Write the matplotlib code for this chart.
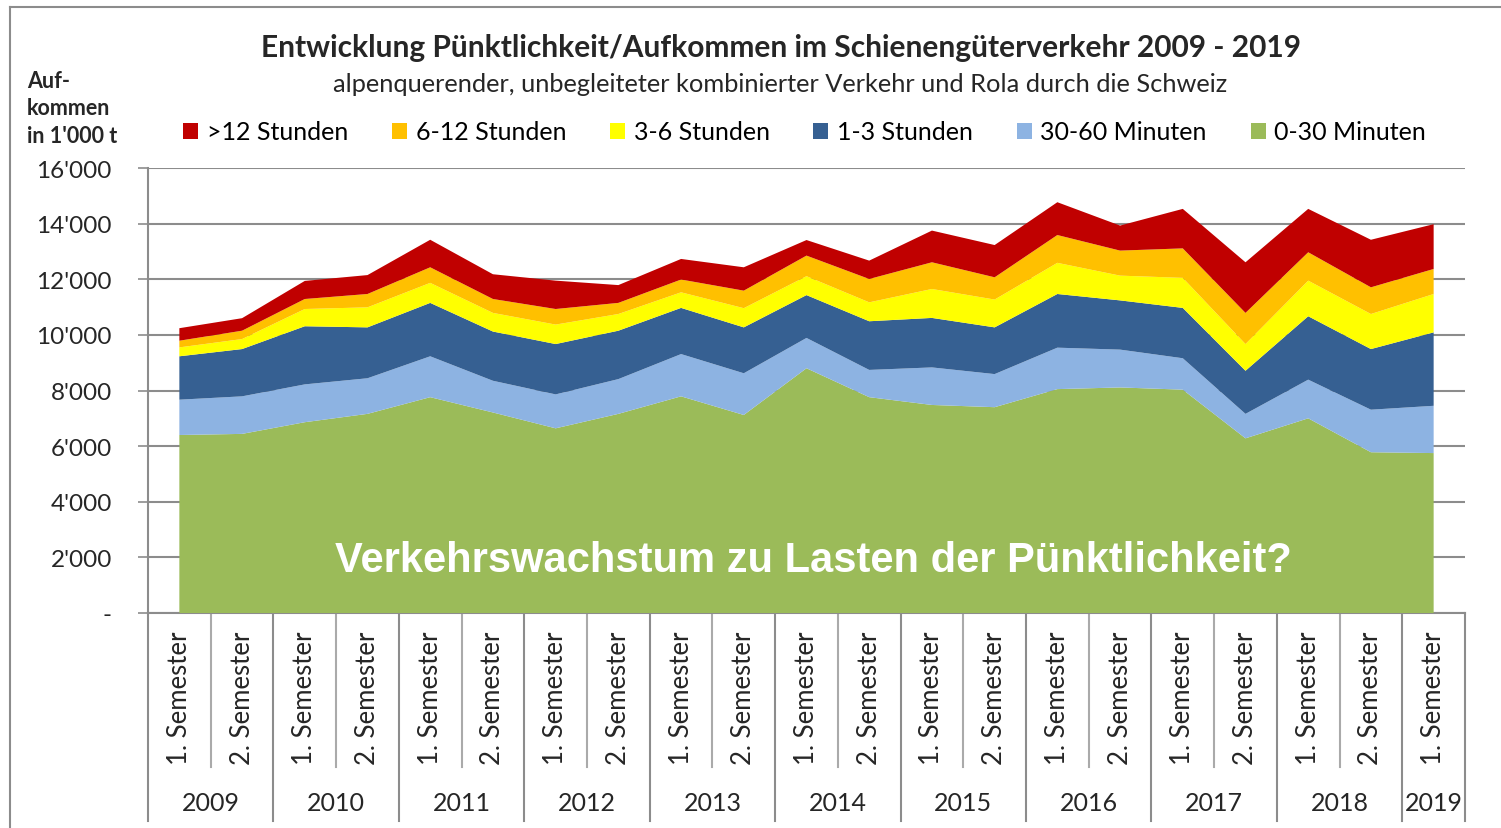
import matplotlib.pyplot as plt
from matplotlib.patches import Patch
from matplotlib.lines import Line2D

# semester values in 1'000 t, 2009 S1 ... 2019 S1
semesters = ["1. Semester", "2. Semester"] * 10 + ["1. Semester"]
years = ["2009", "2010", "2011", "2012", "2013", "2014", "2015", "2016", "2017", "2018", "2019"]

min_0_30 = [6400, 6440, 6860, 7160, 7760, 7210, 6640, 7160, 7790, 7120, 8800,
            7760, 7480, 7400, 8050, 8110, 8030, 6280, 7000, 5780, 5750]
min_30_60 = [1270, 1350, 1360, 1280, 1470, 1140, 1220, 1250, 1520, 1500, 1090,
             980, 1350, 1190, 1490, 1360, 1130, 880, 1390, 1530, 1700]
h_1_3 = [1560, 1700, 2090, 1830, 1920, 1770, 1810, 1740, 1660, 1650, 1540,
         1750, 1780, 1680, 1930, 1770, 1810, 1550, 2280, 2180, 2640]
h_3_6 = [320, 360, 620, 720, 720, 670, 700, 600, 560, 690, 680,
         680, 1040, 1000, 1120, 890, 1080, 960, 1280, 1260, 1380]
h_6_12 = [240, 300, 360, 480, 560, 500, 560, 400, 460, 630, 740,
          840, 960, 800, 1000, 900, 1060, 1120, 1020, 960, 900]
h_12 = [450, 450, 650, 680, 990, 890, 1020, 640, 740, 840, 560,
        660, 1140, 1160, 1180, 900, 1420, 1820, 1560, 1710, 1610]

series = [min_0_30, min_30_60, h_1_3, h_3_6, h_6_12, h_12]
labels = ["0-30 Minuten", "30-60 Minuten", "1-3 Stunden", "3-6 Stunden", "6-12 Stunden", ">12 Stunden"]
colors = ["#9BBB59", "#8DB3E2", "#366092", "#FFFF00", "#FFC000", "#C00000"]

font = "Lato"
grey = "#8c8c8c"
txt = "#262626"

fig = plt.figure(figsize=(15.01, 8.29), dpi=100)
ax = fig.add_axes([148 / 1501, 1 - 614 / 829, (1465 - 148) / 1501, (614 - 169) / 829])

x = list(range(len(min_0_30)))
ax.stackplot(x, *series, colors=colors, linewidth=0, zorder=3)

ax.set_xlim(-0.5, 20.5)
ax.set_ylim(0, 16000)
yt = list(range(0, 16001, 2000))
ax.set_yticks(yt)
ax.set_yticklabels(["-"] + [f"{v // 1000}'000" for v in yt[1:]], fontsize=17.5, family=font, color=txt)
ax.tick_params(axis="y", length=7, width=1.2, color=grey, pad=19)
ax.set_xticks([])
ax.grid(axis="y", color=grey, linewidth=1.5, zorder=0)
for s in ["top", "right"]:
    ax.spines[s].set_visible(False)
ax.spines["left"].set_color(grey)
ax.spines["bottom"].set_color(grey)
ax.spines["left"].set_linewidth(1.5)
ax.spines["bottom"].set_linewidth(1.5)

# multi-level category axis
tr = ax.get_xaxis_transform()
for i, s in enumerate(semesters):
    ax.text(i, -0.04, s, rotation=90, ha="center", va="top", transform=tr,
            fontsize=18.5, family=font, color=txt)
for k in range(len(semesters) + 1):
    b = k - 0.5
    if k % 2 == 0 or k == len(semesters):
        ax.plot([b, b], [0, -0.467], transform=tr, color=grey, lw=1.5, clip_on=False)
    else:
        ax.plot([b, b], [0, -0.346], transform=tr, color="#aaaaaa", lw=1.5, clip_on=False)
for j, yr in enumerate(years):
    xc = 2 * j + 0.5 if j < len(years) - 1 else 2 * j
    ax.text(xc, -0.425, yr, ha="center", va="center", transform=tr,
            fontsize=18, family=font, color=txt)

# overlay message
ax.text(0.505, 0.12, "Verkehrswachstum zu Lasten der Pünktlichkeit?", transform=ax.transAxes,
        ha="center", va="center", color="white", fontsize=30, fontweight="bold",
        family="Liberation Sans", zorder=5)

fig.text(0.52, 1 - 48 / 829, "Entwicklung Pünktlichkeit/Aufkommen im Schienengüterverkehr 2009 - 2019",
         ha="center", va="center", fontsize=21.5, fontweight="bold", family=font, color=txt)
fig.text(0.52, 1 - 85 / 829, "alpenquerender, unbegleiteter kombinierter Verkehr und Rola durch die Schweiz",
         ha="center", va="center", fontsize=18.3, family=font, color=txt)
fig.text(27 / 1501, 1 - 109 / 829, "Auf-\nkommen\nin 1'000 t", ha="left", va="center",
         fontsize=15.5, fontweight="bold", family=font, linespacing=1.4, color=txt)

handles = [Patch(facecolor=c) for c in colors[::-1]]
fig.legend(handles, labels[::-1], ncol=6, loc="center", bbox_to_anchor=(0.536, 1 - 133 / 829),
           frameon=False, handlelength=0.6, handleheight=0.6, handletextpad=0.35,
           columnspacing=1.75, prop={"family": font, "size": 18})

# outer border
fig.add_artist(Line2D([10 / 1501, 10 / 1501], [0, 1 - 8 / 829], transform=fig.transFigure, color=grey, lw=1.5))
fig.add_artist(Line2D([10 / 1501, 1], [1 - 8 / 829, 1 - 8 / 829], transform=fig.transFigure, color=grey, lw=1.5))

fig.savefig("out.png", dpi=100)
